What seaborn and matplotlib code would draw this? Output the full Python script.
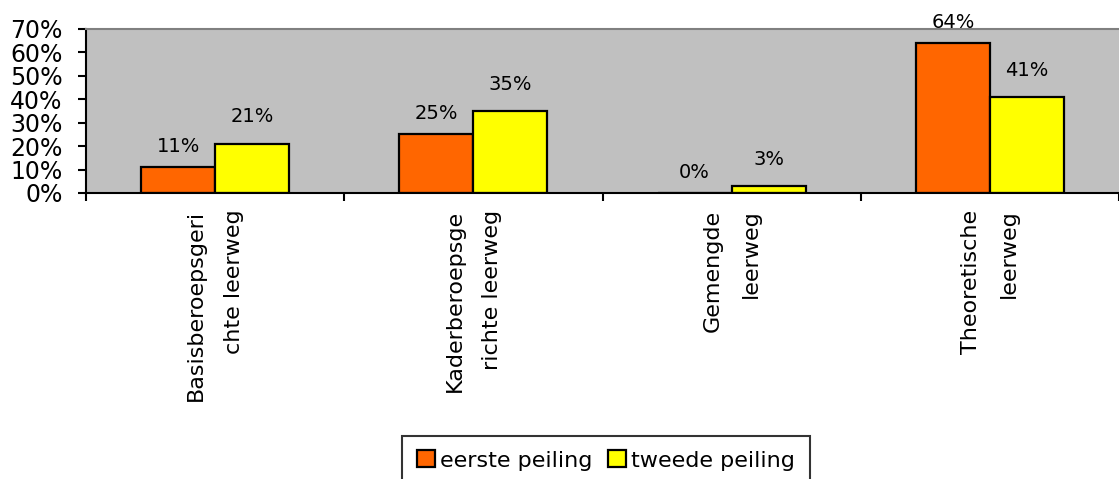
import pandas as pd
import matplotlib
matplotlib.use('Agg')
import matplotlib.pyplot as plt
import seaborn as sns
from matplotlib.ticker import FuncFormatter

# data (percentages)
categories = ["Basisberoepsgeri\nchte leerweg", "Kaderberoepsge\nrichte leerweg",
              "Gemengde\nleerweg", "Theoretische\nleerweg"]
series = ["eerste peiling", "tweede peiling"]
eerste = [11, 25, 0, 64]
tweede = [21, 35, 3, 41]

df = pd.DataFrame({
    "cat": categories * 2,
    "peiling": [series[0]] * 4 + [series[1]] * 4,
    "val": eerste + tweede,
})

plt.rcParams['font.family'] = ['DejaVu Sans']

fig = plt.figure(figsize=(11.19, 4.79), dpi=100)
ax = fig.add_axes([86 / 1119, 286 / 479, 1033 / 1119, 164 / 479])
ax.set_facecolor('#C0C0C0')

sns.barplot(data=df, x='cat', y='val', hue='peiling',
            palette=['#FF6600', '#FFFF00'], saturation=1, width=0.574, gap=0,
            edgecolor='black', linewidth=1.6, ax=ax, legend=True)

# value labels above bars
for cont, pad in zip(ax.containers, [8.2, 12.5]):
    ax.bar_label(cont, labels=[f"{v:.0f}%" for v in cont.datavalues],
                 padding=pad, fontsize=14, clip_on=False)

ax.set_ylim(0, 70)
ax.set_xlim(-0.5, 3.5)
ax.set_yticks(range(0, 71, 10))
ax.yaxis.set_major_formatter(FuncFormatter(lambda v, p: f"{v:.0f}%"))
ax.tick_params(axis='y', labelsize=17, length=6, width=1.5, pad=11)

ax.set_xticks(range(4))
ax.set_xticks([-0.5, 0.5, 1.5, 2.5, 3.5], minor=True)
ax.tick_params(axis='x', which='major', length=0, pad=12)
ax.tick_params(axis='x', which='minor', length=6, width=1.5)
ax.set_xticklabels(categories, rotation=90, fontsize=16, va='top', ha='center',
                   linespacing=2.1)
for lbl in ax.get_xticklabels():
    lbl.set_multialignment('right')

ax.set_xlabel('')
ax.set_ylabel('')

ax.spines['right'].set_visible(False)
ax.spines['top'].set_color('#808080')
ax.spines['top'].set_linewidth(1.5)
ax.spines['left'].set_linewidth(1.5)
ax.spines['bottom'].set_linewidth(1.5)

handles, labels = ax.get_legend_handles_labels()
ax.get_legend().remove()
leg = fig.legend(handles, labels, loc='upper center',
                 bbox_to_anchor=(606 / 1119, 1 - 436 / 479), ncol=2,
                 fontsize=16, frameon=True, fancybox=False, edgecolor='black',
                 handlelength=0.8, handleheight=0.8, handletextpad=0.25,
                 columnspacing=0.7, borderpad=0.65, borderaxespad=0)
leg.get_frame().set_linewidth(1.5)

fig.savefig('out.png', dpi=100)
